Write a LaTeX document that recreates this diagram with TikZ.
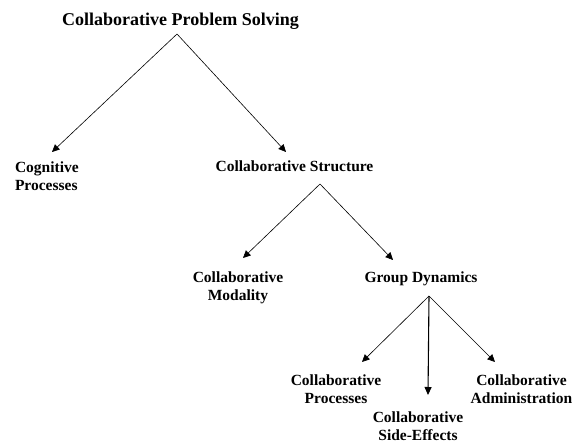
\documentclass[tikz,border=0pt]{standalone}
\usepackage{fontspec}
\setmainfont{Liberation Serif}
\usetikzlibrary{arrows.meta,calc}
\tikzset{
  lbl/.style={inner sep=0pt, outer sep=0pt, align=center, font=\fontsize{15.5}{18}\selectfont\bfseries},
  ttl/.style={inner sep=0pt, outer sep=0pt, font=\fontsize{18}{21}\selectfont\bfseries},
  arr/.style={line width=0.6pt, -{Triangle[length=7.5pt,width=7pt]}},
  arrv/.style={line width=1.1pt, -{Triangle[length=8pt,width=7pt]}}
}
\begin{document}
\begin{tikzpicture}[x=1pt,y=-1pt]
\useasboundingbox (0,0) rectangle (580,443);
\node[ttl, anchor=base] (title) at (180.5,26) {Collaborative Problem Solving};
\node[lbl, anchor=base west, align=left] (cog) at (15,191) {Cognitive\\Processes};
\node[lbl, anchor=base] (struct) at (294.5,172) {Collaborative Structure};
\node[lbl, anchor=base] (modal) at (238,300) {Collaborative\\Modality};
\node[lbl, anchor=base] (group) at (421,282) {Group Dynamics};
\node[lbl, anchor=base] (proc) at (336,403) {Collaborative\\Processes};
\node[lbl, anchor=base] (side) at (418,440) {Collaborative\\Side-Effects};
\node[lbl, anchor=base] (admin) at (521.5,403) {Collaborative\\Administration};
% connectors
\draw[arr] ($(title.base)+(-3.5,8)$) -- ($(cog.base west)+(37,-39)$);
\draw[arr] ($(title.base)+(-3.5,8)$) -- ($(struct.base)+(-8.5,-20)$);
\draw[arr] ($(struct.base)+(25.5,12)$) -- ($(modal.base)+(5,-42)$);
\draw[arr] ($(struct.base)+(25.5,12)$) -- ($(group.base)+(-28,-22)$);
\draw[arr] ($(group.base)+(8,14)$) -- ($(proc.base)+(26,-41)$);
\draw[arrv] ($(group.base)+(8,14)$) -- ($(side.base)+(10,-45)$);
\draw[arr] ($(group.base)+(8,14)$) -- ($(admin.base)+(-26.5,-41)$);
\end{tikzpicture}
\end{document}
